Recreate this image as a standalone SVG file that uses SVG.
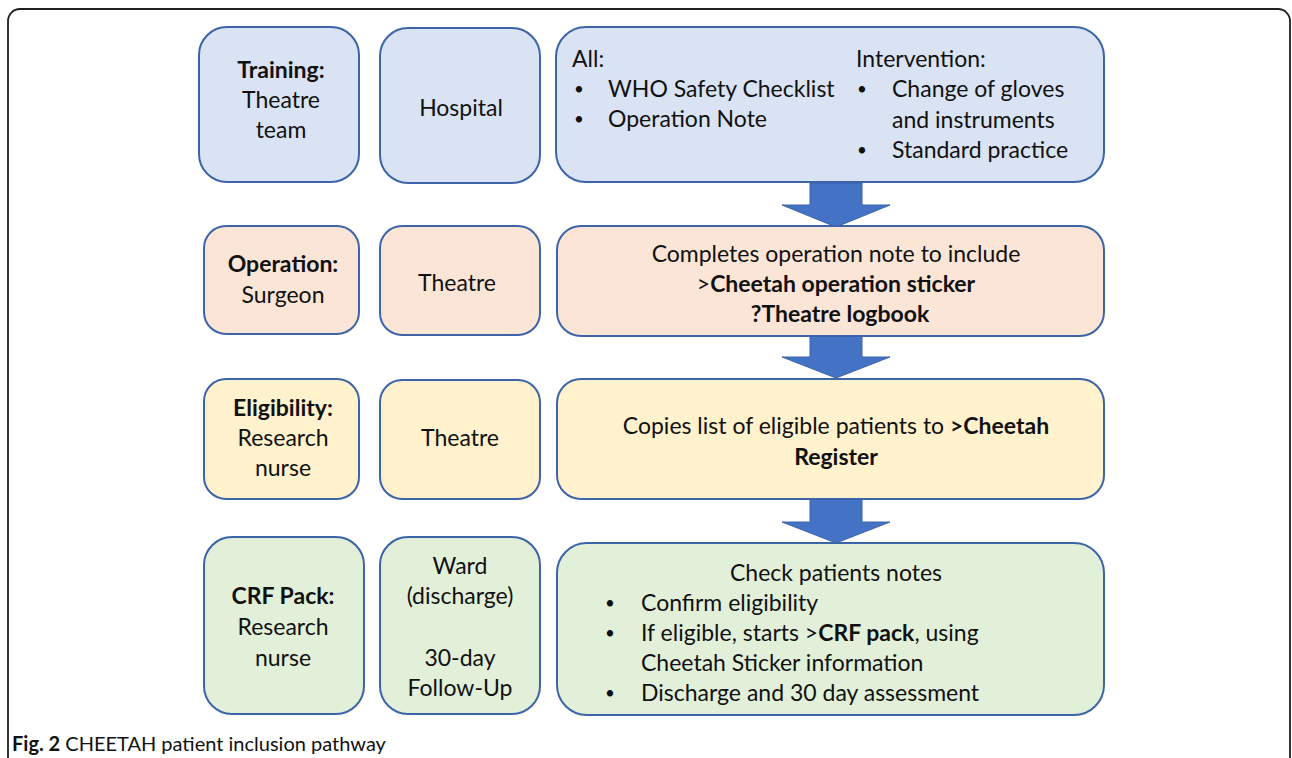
<svg xmlns="http://www.w3.org/2000/svg" width="1292" height="758" viewBox="0 0 1292 758">
<style>
text{font-family:Lato,"Open Sans","Liberation Sans",sans-serif;font-size:23px;fill:#111;}
.c{text-anchor:middle;}
.b{font-weight:bold;}
.bul{font-size:17px;}
.box{stroke:#3d64a8;stroke-width:2;}
.r1{fill:#dae3f3;}
.r2{fill:#fbe5d6;}
.r3{fill:#fff2cc;}
.r4{fill:#e2f0d9;}
.arrow{fill:#4472c4;stroke:#3a62ab;stroke-width:1;}
.cap{font-size:20px;}
</style>
<rect x="8" y="9" width="1282" height="800" rx="12" fill="#fff" stroke="#231f20" stroke-width="1.8"/>

<g id="connectors">
<polygon class="arrow" points="810,183 862,183 862,205 890,205 836,227 782,205 810,205"/>
<polygon class="arrow" points="810,336 862,336 862,357 890,357 836,378 782,357 810,357"/>
<polygon class="arrow" points="810,499 862,499 862,522 890,522 836,543 782,522 810,522"/>
</g>

<g id="training">
<rect class="box r1" x="199" y="27" width="160" height="155" rx="28"/>
<text class="c" x="281" y="78"><tspan class="b">Training:</tspan><tspan x="281" y="108">Theatre</tspan><tspan x="281" y="138">team</tspan></text>
</g>
<g id="hospital">
<rect class="box r1" x="380" y="28" width="160" height="155" rx="28"/>
<text class="c" x="461" y="116">Hospital</text>
</g>
<g id="training-detail">
<rect class="box r1" x="556" y="27" width="548" height="155" rx="30"/>
<text x="572" y="67">All:</text>
<text class="bul" x="574" y="95">•</text><text x="608" y="97">WHO Safety Checklist</text>
<text class="bul" x="574" y="125">•</text><text x="608" y="127">Operation Note</text>
<text x="856" y="67">Intervention:</text>
<text class="bul" x="857" y="95">•</text><text x="892" y="97">Change of gloves</text>
<text x="892" y="128">and instruments</text>
<text class="bul" x="857" y="156">•</text><text x="892" y="158">Standard practice</text>
</g>

<g id="operation">
<rect class="box r2" x="204" y="226" width="155" height="108" rx="22"/>
<text class="c" x="283" y="272"><tspan class="b">Operation:</tspan><tspan x="283" y="303">Surgeon</tspan></text>
</g>
<g id="theatre1">
<rect class="box r2" x="380" y="226" width="160" height="109" rx="22"/>
<text class="c" x="457" y="291">Theatre</text>
</g>
<g id="operation-detail">
<rect class="box r2" x="557" y="226" width="547" height="110" rx="24"/>
<text class="c" x="836" y="262">Completes operation note to include</text>
<text class="c" x="836" y="292">&gt;<tspan class="b">Cheetah operation sticker</tspan></text>
<text class="c b" x="840" y="322">?Theatre logbook</text>
</g>

<g id="eligibility">
<rect class="box r3" x="204" y="379" width="155" height="120" rx="22"/>
<text class="c" x="283" y="416"><tspan class="b">Eligibility:</tspan><tspan x="283" y="446">Research</tspan><tspan x="283" y="476">nurse</tspan></text>
</g>
<g id="theatre2">
<rect class="box r3" x="380" y="380" width="160" height="119" rx="22"/>
<text class="c" x="460" y="446">Theatre</text>
</g>
<g id="eligibility-detail">
<rect class="box r3" x="557" y="379" width="547" height="120" rx="24"/>
<text class="c" x="836" y="434">Copies list of eligible patients to <tspan class="b">&gt;Cheetah</tspan></text>
<text class="c b" x="836" y="465">Register</text>
</g>

<g id="crf-pack">
<rect class="box r4" x="204" y="537" width="160" height="177" rx="28"/>
<text class="c" x="283" y="604"><tspan class="b">CRF Pack:</tspan><tspan x="283" y="635">Research</tspan><tspan x="283" y="666">nurse</tspan></text>
</g>
<g id="ward">
<rect class="box r4" x="380" y="537" width="160" height="177" rx="28"/>
<text class="c" x="460" y="574">Ward<tspan x="460" y="604">(discharge)</tspan><tspan x="460" y="666">30-day</tspan><tspan x="460" y="696">Follow-Up</tspan></text>
</g>
<g id="crf-detail">
<rect class="box r4" x="557" y="543" width="547" height="172" rx="30"/>
<text class="c" x="836" y="581">Check patients notes</text>
<text class="bul" x="605" y="609">•</text><text x="641" y="611">Confirm eligibility</text>
<text class="bul" x="605" y="639">•</text><text x="641" y="641">If eligible, starts &gt;<tspan class="b">CRF pack</tspan>, using</text>
<text x="641" y="671">Cheetah Sticker information</text>
<text class="bul" x="605" y="699">•</text><text x="641" y="701">Discharge and 30 day assessment</text>
</g>

<text class="cap" x="12" y="751"><tspan class="b">Fig. 2</tspan> CHEETAH patient inclusion pathway</text>
</svg>
